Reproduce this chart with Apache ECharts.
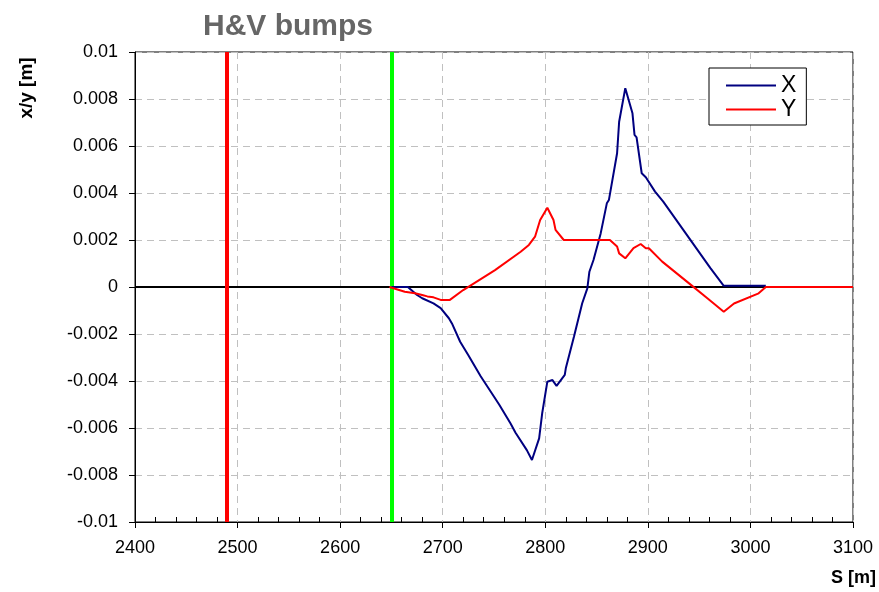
<!DOCTYPE html>
<html>
<head>
<meta charset="utf-8">
<script src="https://cdn.jsdelivr.net/npm/echarts@6/dist/echarts.min.js"></script>
<style>
  html, body { margin: 0; padding: 0; background: #fff; }
  #chart { width: 879px; height: 592px; }
</style>
</head>
<body>
<div id="chart"></div>
<script>
// S positions [m] and horizontal orbit x [m]
var xS = [2650, 2666, 2675, 2680, 2691, 2698, 2706, 2709, 2717, 2725, 2737, 2755, 2766, 2771, 2782, 2787,
          2794, 2797, 2802, 2807, 2811, 2819, 2820, 2828, 2836, 2841, 2843, 2847, 2854, 2860, 2862, 2870,
          2872, 2878, 2885, 2887, 2889, 2894, 2898, 2907, 2915, 2961, 2974, 3015];
var xVal = [0, 0, -0.00034, -0.00048, -0.0007, -0.0009, -0.00133, -0.00155, -0.00233, -0.0029, -0.0038, -0.005,
            -0.0058, -0.0062, -0.00694, -0.00736, -0.00644, -0.00537, -0.00403, -0.00396, -0.00421, -0.00374,
            -0.00346, -0.00211, -0.00069, -0.00006, 0.00065, 0.00115, 0.00228, 0.00356, 0.0037, 0.00569,
            0.00703, 0.00846, 0.00739, 0.00647, 0.00637, 0.00484, 0.00467, 0.00406, 0.00363, 0.0008, 0.00005, 0.00005];

// S positions [m] and vertical orbit y [m]
var yS = [2648, 2663, 2673, 2680, 2685, 2691, 2698, 2707, 2720, 2751, 2776, 2784, 2790, 2795, 2802, 2808,
          2810, 2818, 2863, 2870, 2872, 2878, 2886, 2893, 2898, 2901, 2914, 2942, 2958, 2974, 2984, 3008, 3015, 3100];
var yVal = [0, -0.0002, -0.00027, -0.00034, -0.0004, -0.00044, -0.00055, -0.00055, -0.00013, 0.00072, 0.0015,
            0.00179, 0.00214, 0.00285, 0.00337, 0.00285, 0.00243, 0.002, 0.002, 0.00172, 0.00143, 0.00122,
            0.00165, 0.00183, 0.00165, 0.00165, 0.00108, 0.00009, -0.00048, -0.00105, -0.0007, -0.00027, 0, 0];

// vertical markers
var markRed = 2489;
var markGreen = 2650;

function pairs(s, v) {
    var out = [];
    for (var i = 0; i < s.length; i++) out.push([s[i], v[i]]);
    return out;
}

var myChart = echarts.init(document.getElementById('chart'), null, {renderer: 'canvas'});

var labelFont = {fontFamily: 'Liberation Sans, Arial, sans-serif', fontSize: 18, color: '#000'};

option = {
    animation: false,
    backgroundColor: '#fff',
    title: {
        text: 'H&V bumps',
        left: 283,
        top: 7,
        textAlign: 'center',
        textStyle: {fontFamily: 'Liberation Sans, Arial, sans-serif', fontSize: 30, fontWeight: 'bold', color: '#666666'}
    },
    grid: {
        left: 135, right: 26, top: 52, bottom: 70,
        show: true, borderColor: '#000', borderWidth: 1, backgroundColor: '#fff'
    },
    legend: {
        left: 709, top: 68,
        orient: 'vertical',
        backgroundColor: '#fff',
        borderColor: '#000',
        borderWidth: 1,
        borderRadius: 0,
        padding: [6, 10, 4, 17],
        itemGap: 1,
        itemWidth: 50,
        itemHeight: 2,
        icon: 'rect',
        textStyle: {fontFamily: 'Liberation Sans, Arial, sans-serif', fontSize: 23, color: '#000', padding: [0, 0, 0, 0]},
        data: ['X', 'Y']
    },
    xAxis: {
        type: 'value',
        min: 2400, max: 3100, interval: 100,
        axisLine: {onZero: false, lineStyle: {color: '#000', width: 1}},
        axisTick: {show: true, length: 6, lineStyle: {color: '#000'}},
        minorTick: {show: true, splitNumber: 5, length: -5, lineStyle: {color: '#000'}},
        axisLabel: Object.assign({margin: 17, formatter: function (v) { return String(v); }}, labelFont),
        splitLine: {show: true, lineStyle: {color: '#c0c0c0', type: [7, 5]}}
    },
    yAxis: {
        type: 'value',
        min: -0.01, max: 0.01, interval: 0.002,
        axisLine: {show: true, onZero: false, lineStyle: {color: '#000', width: 1}},
        axisTick: {show: true, length: 6, lineStyle: {color: '#000'}},
        axisLabel: Object.assign({margin: 17, formatter: function (v) {
            return String(parseFloat(v.toFixed(3)));
        }}, labelFont),
        splitLine: {show: true, lineStyle: {color: '#c0c0c0', type: [7, 5]}}
    },
    graphic: [
        {
            type: 'text', x: 27, y: 88, rotation: Math.PI / 2,
            style: {text: 'x/y [m]', fontFamily: 'Liberation Sans, Arial, sans-serif', fontSize: 19, fontWeight: 'bold',
                    fill: '#000', textAlign: 'center', textVerticalAlign: 'middle'}
        },
        {
            type: 'text', right: 3, top: 569,
            style: {text: 'S [m]', fontFamily: 'Liberation Sans, Arial, sans-serif', fontSize: 18, fontWeight: 'bold', fill: '#000'}
        }
    ],
    series: [
        {
            name: 'ref',
            type: 'line',
            data: [],
            silent: true,
            z: 1,
            markLine: {
                silent: true,
                symbol: 'none',
                label: {show: false},
                animation: false,
                data: [
                    {yAxis: 0, lineStyle: {color: '#000', width: 2, type: 'solid'}},
                    {xAxis: markRed, lineStyle: {color: '#ff0000', width: 4, type: 'solid'}},
                    {xAxis: markGreen, lineStyle: {color: '#00ff00', width: 4, type: 'solid'}}
                ]
            }
        },
        {
            name: 'X',
            type: 'line',
            z: 5,
            data: pairs(xS, xVal),
            showSymbol: false,
            color: '#000080',
            lineStyle: {color: '#000080', width: 2}
        },
        {
            name: 'Y',
            type: 'line',
            z: 6,
            data: pairs(yS, yVal),
            showSymbol: false,
            color: '#ff0000',
            lineStyle: {color: '#ff0000', width: 2}
        }
    ]
};

myChart.setOption(option);
</script>
</body>
</html>
